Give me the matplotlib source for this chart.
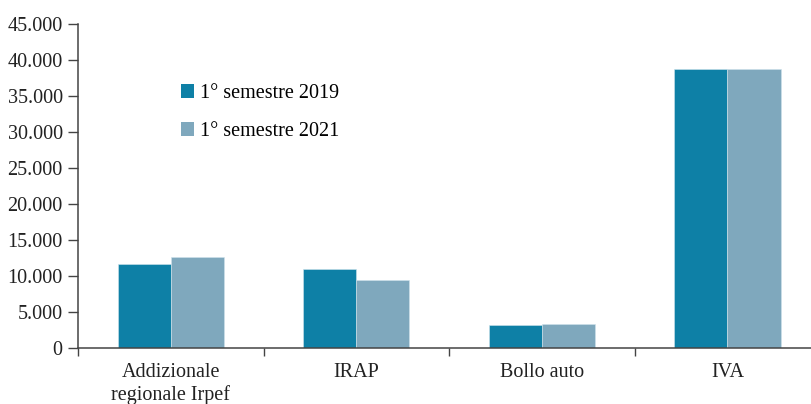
import numpy as np
import matplotlib.pyplot as plt
from matplotlib.ticker import FuncFormatter, FixedLocator
from matplotlib.patches import Patch

categories = ['Addizionale\nregionale Irpef', 'IRAP', 'Bollo auto', 'IVA']
sem_2019 = [11650, 11000, 3150, 38700]
sem_2021 = [12600, 9450, 3400, 38700]
series_labels = ['1° semestre 2019', '1° semestre 2021']

col_2019 = '#0e80a6'
col_2021 = '#7fa8bd'

plt.rcParams['font.family'] = ['Liberation Serif', 'DejaVu Serif']
plt.rcParams['font.size'] = 14.5

fig = plt.figure(figsize=(8.11, 4.04), dpi=100)
ax = fig.add_axes([78/811, 56/404, 1 - 78/811, (348-24)/404])

x = np.arange(len(categories))
w = 0.286
ax.bar(x - w/2, sem_2019, w, color=col_2019, edgecolor='#cfe3ec', linewidth=0.4)
ax.bar(x + w/2, sem_2021, w, color=col_2021, edgecolor='#cfe3ec', linewidth=0.4)

ax.set_xlim(-0.5, 3.45)
ax.set_ylim(0, 45000)
ax.set_yticks(np.arange(0, 45001, 5000))
ax.yaxis.set_major_formatter(FuncFormatter(lambda v, p: '{:,.0f}'.format(v).replace(',', '.')))

ax.set_xticks(x)
ax.set_xticklabels(categories, linespacing=1.2)
ax.xaxis.set_minor_locator(FixedLocator([-0.5, 0.5, 1.5, 2.5]))
ax.tick_params(axis='x', which='major', length=0, pad=11, colors='#222222')
ax.tick_params(axis='x', which='minor', length=6, width=1, color='#444444')
ax.tick_params(axis='y', length=7, width=1, color='#444444', pad=4, labelcolor='#222222')

for s in ['top', 'right']:
    ax.spines[s].set_visible(False)
for s in ['left', 'bottom']:
    ax.spines[s].set_color('#444444')
    ax.spines[s].set_linewidth(1.1)

handles = [Patch(facecolor=col_2019), Patch(facecolor=col_2021)]
ax.legend(handles, series_labels, loc='upper left', bbox_to_anchor=(173/811, 1 - 76/404),
          bbox_transform=fig.transFigure, frameon=False, handlelength=0.65, handleheight=0.65,
          handletextpad=0.3, labelspacing=0.95, borderaxespad=0)

fig.savefig('out.png', dpi=100)
